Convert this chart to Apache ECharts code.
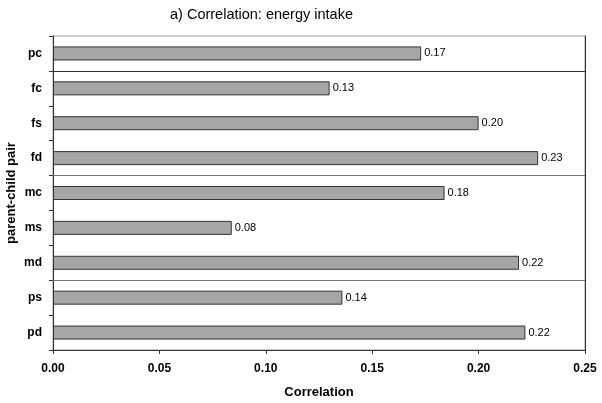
<!DOCTYPE html>
<html>
<head>
<meta charset="utf-8">
<script src="https://cdn.jsdelivr.net/npm/echarts@6/dist/echarts.min.js"></script>
<style>html,body{margin:0;padding:0;background:#fff;}#c{width:602px;height:403px;}</style>
</head>
<body>
<div id="c"></div>
<script>
var categories = ['pc', 'fc', 'fs', 'fd', 'mc', 'ms', 'md', 'ps', 'pd'];
var values = [0.173, 0.130, 0.200, 0.228, 0.184, 0.084, 0.219, 0.136, 0.222];
var xTicks = [0, 0.05, 0.10, 0.15, 0.20, 0.25];
var groupBreaks = [1, 4, 7];

var chart = echarts.init(document.getElementById('c'), null, {renderer: 'canvas'});
var font = 'Liberation Sans, Arial, sans-serif';
chart.setOption({
  animation: false,
  backgroundColor: '#fff',
  title: {
    text: 'a) Correlation: energy intake',
    left: 165, top: 2,
    textStyle: {fontFamily: font, fontSize: 14.5, fontWeight: 'normal', color: '#000'}
  },
  grid: {left: 53, right: 17, top: 36, bottom: 53, containLabel: false, outerBoundsMode: 'none',
    show: true, borderColor: '#999', borderWidth: 1},
  xAxis: {
    type: 'value', min: xTicks[0], max: xTicks[xTicks.length - 1], interval: 0.05,
    name: 'Correlation', nameLocation: 'middle', nameGap: 36, nameMoveOverlap: false,
    nameTextStyle: {fontFamily: font, fontSize: 13, fontWeight: 'bold', color: '#000'},
    axisLine: {show: true, onZero: false, lineStyle: {color: '#333', width: 1}},
    axisTick: {show: true, inside: false, length: 4, lineStyle: {color: '#333'}},
    axisLabel: {fontFamily: font, fontSize: 12, fontWeight: 'bold', color: '#000', margin: 13,
      formatter: function (v) { return v.toFixed(2); }},
    splitLine: {show: false}
  },
  yAxis: [{
    type: 'category', data: categories, inverse: true,
    name: 'parent-child pair', nameLocation: 'middle', nameGap: 35, nameMoveOverlap: false,
    nameTextStyle: {fontFamily: font, fontSize: 13, fontWeight: 'bold', color: '#000'},
    axisLine: {show: true, onZero: false, lineStyle: {color: '#333', width: 1}},
    axisTick: {show: true, inside: false, length: 4, alignWithLabel: false, lineStyle: {color: '#333'}},
    axisLabel: {fontFamily: font, fontSize: 12, fontWeight: 'bold', color: '#000', margin: 11},
    splitLine: {show: false}
  }, {
    type: 'value', min: 0, max: categories.length, inverse: true, position: 'right',
    axisLine: {show: true, onZero: false, lineStyle: {color: '#333', width: 1}},
    axisTick: {show: false}, axisLabel: {show: false}, splitLine: {show: false}
  }],
  series: [{
    type: 'bar', data: values, barWidth: 14,
    itemStyle: {color: '#a6a6a6', borderColor: '#333', borderWidth: 1},
    label: {show: true, position: 'right', distance: 3, fontFamily: font, fontSize: 11, color: '#000',
      formatter: function (p) { return p.value.toFixed(2); }}
  }, {
    type: 'line', yAxisIndex: 1, data: [], silent: true,
    markLine: {
      symbol: 'none', silent: true, label: {show: false},
      lineStyle: {type: 'solid', width: 1, color: '#555'},
      data: groupBreaks.map(function (b, i) {
        return {yAxis: b, lineStyle: {color: i === 0 ? '#333' : '#777'}};
      })
    }
  }]
});
</script>
</body>
</html>
